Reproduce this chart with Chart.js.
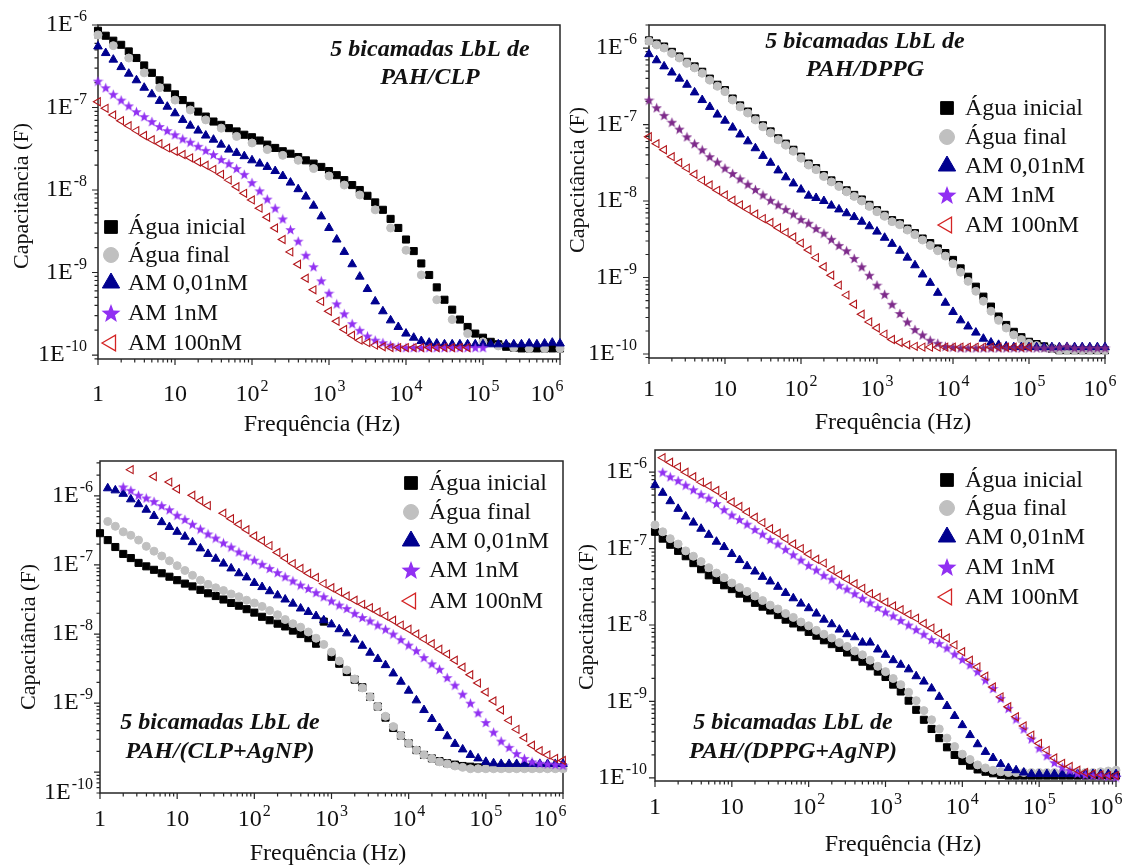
<!DOCTYPE html>
<html>
<head>
<meta charset="utf-8">
<script src="https://cdn.jsdelivr.net/npm/chart.js@4.4.0/dist/chart.umd.min.js"></script>
<style>
  html, body { margin: 0; background: #fff; }
  #wrap { position: relative; width: 1126px; height: 865px; overflow: hidden; }
  canvas { position: absolute; }
</style>
</head>
<body>
<div id="wrap">
  <canvas id="c1" width="575" height="440" style="left:0px;top:0px"></canvas>
  <canvas id="c2" width="566" height="440" style="left:560px;top:0px"></canvas>
  <canvas id="c3" width="575" height="430" style="left:0px;top:435px"></canvas>
  <canvas id="c4" width="566" height="430" style="left:560px;top:435px"></canvas>
</div>
<script>
// frequency grid (Hz), shared by all panels
const freq = [1, 1.26, 1.58, 2, 2.51, 3.16, 3.98, 5.01, 6.31, 7.94,
  10, 12.6, 15.8, 20, 25.1, 31.6, 39.8, 50.1, 63.1, 79.4,
  100, 126, 158, 200, 251, 316, 398, 501, 631, 794,
  1000, 1260, 1580, 2000, 2510, 3160, 3980, 5010, 6310, 7940,
  1e4, 12600, 15800, 20000, 25100, 31600, 39800, 50100, 63100, 79400,
  1e5, 126000, 158000, 200000, 251000, 316000, 398000, 501000, 631000, 794000, 1e6];

const seriesNames = ['Água inicial', 'Água final', 'AM 0,01nM', 'AM 1nM', 'AM 100nM'];

// values are log10 of capacitance (F); null = no point
// 5 bicamadas PAH/CLP
const clpInicial = [-6.07,-6.13,-6.19,-6.24,-6.32,-6.40,-6.49,-6.58,-6.67,-6.76,
  -6.84,-6.91,-6.98,-7.05,-7.11,-7.17,-7.21,-7.25,-7.29,-7.33,
  -7.36,-7.40,-7.45,-7.49,-7.53,-7.56,-7.60,-7.64,-7.68,-7.72,
  -7.77,-7.82,-7.88,-7.94,-8.00,-8.07,-8.15,-8.24,-8.35,-8.46,
  -8.60,-8.74,-8.89,-9.03,-9.18,-9.33,-9.45,-9.57,-9.66,-9.74,
  -9.79,-9.84,-9.87,-9.90,-9.91,-9.92,-9.92,-9.92,-9.92,-9.92,-9.92];
const clpFinal = [-6.12,null,-6.25,null,-6.40,null,-6.58,null,-6.76,null,
  -6.91,null,-7.03,null,-7.15,null,-7.25,null,-7.35,null,
  -7.43,null,-7.51,null,-7.58,null,-7.64,null,-7.74,null,
  -7.83,null,-7.94,null,-8.06,null,-8.24,null,-8.46,null,
  -8.73,null,-9.03,null,-9.33,null,-9.57,null,-9.74,null,
  -9.84,null,-9.89,null,-9.91,null,-9.92,null,-9.92,null,-9.92];
const clpAm001 = [-6.26,-6.34,-6.42,-6.51,-6.59,-6.67,-6.76,-6.84,-6.92,-6.99,
  -7.07,-7.15,-7.22,-7.28,-7.34,-7.39,-7.45,-7.51,-7.55,-7.59,
  -7.64,-7.68,-7.72,-7.77,-7.83,-7.91,-7.99,-8.08,-8.19,-8.32,
  -8.46,-8.60,-8.75,-8.90,-9.05,-9.20,-9.35,-9.47,-9.58,-9.66,
  -9.74,-9.79,-9.83,-9.85,-9.86,-9.87,-9.87,-9.87,-9.87,-9.87,
  -9.87,-9.87,-9.87,-9.87,-9.87,-9.87,-9.86,-9.87,-9.86,-9.85,-9.86];
const clpAm1 = [-6.68,-6.76,-6.84,-6.91,-6.98,-7.05,-7.11,-7.17,-7.23,-7.28,
  -7.33,-7.38,-7.42,-7.47,-7.52,-7.57,-7.63,-7.68,-7.74,-7.81,
  -7.91,-8.01,-8.11,-8.22,-8.35,-8.48,-8.62,-8.79,-8.93,-9.10,
  -9.25,-9.38,-9.50,-9.62,-9.70,-9.77,-9.82,-9.85,-9.88,-9.90,
  -9.91,-9.91,-9.91,-9.91,-9.91,-9.91,-9.91,-9.91,-9.91,-9.91,-9.91];
const clpAm100 = [-6.93,-7.01,-7.09,-7.16,-7.22,-7.28,-7.34,-7.39,-7.44,-7.49,
  -7.53,-7.57,-7.61,-7.66,-7.70,-7.75,-7.81,-7.88,-7.96,-8.04,
  -8.12,-8.22,-8.33,-8.46,-8.60,-8.75,-8.90,-9.07,-9.21,-9.35,
  -9.47,-9.59,-9.69,-9.76,-9.82,-9.85,-9.88,-9.90,-9.91,-9.91,
  -9.91,-9.91,-9.91,-9.91,-9.91,-9.91,-9.91,-9.91,-9.91];

// 5 bicamadas PAH/DPPG
const dppgInicial = [-5.90,-5.94,-5.98,-6.05,-6.11,-6.18,-6.24,-6.31,-6.40,-6.48,
  -6.55,-6.66,-6.75,-6.83,-6.92,-7.01,-7.09,-7.18,-7.25,-7.33,
  -7.42,-7.51,-7.57,-7.66,-7.73,-7.79,-7.86,-7.92,-7.98,-8.05,
  -8.12,-8.18,-8.25,-8.29,-8.36,-8.42,-8.49,-8.55,-8.62,-8.68,
  -8.77,-8.88,-8.99,-9.12,-9.25,-9.38,-9.51,-9.62,-9.71,-9.78,
  -9.84,-9.87,-9.90,-9.93,-9.95,-9.95,-9.95,-9.95,-9.95,-9.95,-9.95];
const dppgFinal = [-5.91,-5.96,-6.00,-6.07,-6.13,-6.20,-6.26,-6.33,-6.42,-6.50,
  -6.57,-6.68,-6.77,-6.85,-6.94,-7.03,-7.11,-7.20,-7.27,-7.35,
  -7.44,-7.53,-7.59,-7.68,-7.75,-7.81,-7.88,-7.94,-8.00,-8.07,
  -8.14,-8.20,-8.27,-8.31,-8.38,-8.44,-8.51,-8.58,-8.65,-8.72,
  -8.82,-8.93,-9.05,-9.18,-9.31,-9.44,-9.56,-9.66,-9.75,-9.81,
  -9.86,-9.89,-9.92,-9.93,-9.95,-9.95,-9.95,-9.95,-9.95,-9.95,-9.95];
const dppgAm001 = [-6.08,-6.16,-6.24,-6.32,-6.40,-6.48,-6.58,-6.68,-6.77,-6.87,
  -6.95,-7.04,-7.13,-7.22,-7.31,-7.41,-7.50,-7.60,-7.69,-7.77,
  -7.85,-7.93,-7.96,-8.00,-8.06,-8.11,-8.16,-8.21,-8.27,-8.33,
  -8.40,-8.48,-8.56,-8.65,-8.74,-8.84,-8.96,-9.07,-9.20,-9.33,
  -9.45,-9.56,-9.64,-9.72,-9.80,-9.85,-9.88,-9.90,-9.91,-9.91,
  -9.91,-9.91,-9.91,-9.91,-9.91,-9.91,-9.91,-9.91,-9.91,-9.91,-9.91];
const dppgAm1 = [-6.68,-6.78,-6.88,-6.97,-7.06,-7.16,-7.25,-7.33,-7.42,-7.49,
  -7.57,-7.64,-7.71,-7.78,-7.85,-7.92,-7.99,-8.05,-8.11,-8.17,
  -8.24,-8.29,-8.36,-8.42,-8.50,-8.58,-8.65,-8.75,-8.86,-8.97,
  -9.10,-9.22,-9.35,-9.47,-9.58,-9.68,-9.75,-9.82,-9.86,-9.90,
  -9.91,-9.92,-9.92,-9.92,-9.92,-9.92,-9.92,-9.92,-9.92,-9.92,
  -9.92,-9.92,-9.92,-9.92,-9.91,-9.90,-9.92,-9.92,-9.92,-9.92,-9.92];
const dppgAm100 = [-7.16,-7.25,-7.33,-7.42,-7.50,-7.57,-7.65,-7.73,-7.79,-7.86,
  -7.92,-7.99,-8.05,-8.11,-8.17,-8.23,-8.28,-8.35,-8.41,-8.47,
  -8.55,-8.64,-8.74,-8.86,-8.97,-9.10,-9.23,-9.35,-9.48,-9.58,
  -9.66,-9.74,-9.81,-9.85,-9.88,-9.90,-9.91,-9.91,-9.91,-9.91,
  -9.91,-9.91,-9.91,-9.91,-9.91,-9.91,-9.91,-9.91,-9.91,-9.91,-9.91];

// 5 bicamadas PAH/(CLP+AgNP)
const clpAgInicial = [-6.54,-6.64,-6.74,-6.84,-6.90,-6.97,-7.02,-7.07,-7.12,-7.17,
  -7.22,-7.27,-7.31,-7.36,-7.41,-7.45,-7.50,-7.55,-7.59,-7.64,
  -7.69,-7.75,-7.80,-7.85,-7.89,-7.95,-8.00,-8.06,-8.14,-7.82,
  -8.33,-8.43,-8.55,-8.66,-8.77,-8.91,-9.05,-9.21,-9.36,-9.47,
  -9.58,-9.68,-9.75,-9.80,-9.84,-9.87,-9.89,-9.91,-9.92,-9.93,
  -9.93,-9.93,-9.93,-9.93,-9.93,-9.93,-9.93,-9.93,-9.93,-9.93,-9.93];
const clpAgFinal = [null,-6.37,-6.44,-6.52,-6.57,-6.64,-6.73,-6.80,-6.87,-6.94,
  -7.01,-7.08,-7.15,-7.22,-7.28,-7.33,-7.37,-7.42,-7.46,-7.51,
  -7.55,-7.60,-7.66,-7.72,-7.79,-7.85,-7.90,-7.97,-8.06,-8.15,
  -8.26,-8.39,-8.52,-8.65,-8.78,-8.91,-9.05,-9.19,-9.34,-9.47,
  -9.58,-9.68,-9.75,-9.80,-9.85,-9.88,-9.91,-9.93,-9.95,-9.95,
  -9.95,-9.95,-9.95,-9.95,-9.95,-9.95,-9.95,-9.95,-9.95,-9.95,-9.95];
const clpAgAm001 = [null,-5.89,-5.92,-5.97,-6.05,-6.12,-6.20,-6.29,-6.38,-6.45,
  -6.52,-6.59,-6.67,-6.76,-6.84,-6.91,-6.98,-7.05,-7.12,-7.18,
  -7.26,-7.32,-7.38,-7.44,-7.50,-7.56,-7.63,-7.68,-7.74,-7.80,
  -7.86,-7.93,-7.99,-8.08,-8.17,-8.27,-8.36,-8.45,-8.57,-8.69,
  -8.82,-8.96,-9.10,-9.23,-9.36,-9.48,-9.59,-9.67,-9.75,-9.80,
  -9.85,-9.87,-9.88,-9.88,-9.88,-9.88,-9.88,-9.88,-9.88,-9.88,-9.88];
const clpAgAm1 = [null,null,null,-5.87,-5.92,-5.99,-6.03,-6.08,-6.14,-6.20,
  -6.28,-6.34,-6.41,-6.48,-6.55,-6.61,-6.68,-6.74,-6.81,-6.87,
  -6.93,-6.99,-7.05,-7.11,-7.17,-7.23,-7.29,-7.34,-7.40,-7.46,
  -7.52,-7.58,-7.63,-7.70,-7.76,-7.81,-7.87,-7.93,-8.00,-8.08,
  -8.16,-8.24,-8.34,-8.43,-8.51,-8.63,-8.74,-8.87,-9.00,-9.14,
  -9.28,-9.42,-9.55,-9.64,-9.73,-9.80,-9.85,-9.87,-9.88,-9.89,-9.90];
const clpAgAm100 = [null,null,null,null,-5.62,null,null,-5.72,null,-5.80,
  -5.90,null,-5.99,-6.07,-6.14,null,-6.25,-6.33,-6.41,-6.49,
  -6.58,-6.65,-6.72,-6.82,-6.90,-6.98,-7.05,-7.12,-7.18,-7.27,
  -7.33,-7.39,-7.45,-7.51,-7.57,-7.62,-7.68,-7.74,-7.80,-7.87,
  -7.93,-8.00,-8.07,-8.14,-8.22,-8.29,-8.38,-8.48,-8.59,-8.71,
  -8.84,-8.97,-9.10,-9.25,-9.38,-9.50,-9.61,-9.69,-9.75,-9.80,-9.83];

// 5 bicamadas PAH/(DPPG+AgNP)
const dppgAgInicial = [-6.78,-6.87,-6.95,-7.03,-7.10,-7.19,-7.27,-7.35,-7.41,-7.48,
  -7.53,-7.59,-7.65,-7.71,-7.76,-7.81,-7.87,-7.93,-7.98,-8.03,
  -8.09,-8.14,-8.20,-8.25,-8.30,-8.36,-8.42,-8.48,-8.54,-8.61,
  -8.68,-8.78,-8.87,-8.99,-9.11,-9.24,-9.36,-9.48,-9.60,-9.70,
  -9.78,-9.84,-9.89,-9.92,-9.94,-9.96,-9.97,-9.97,-9.97,-9.97,
  -9.97,-9.97,-9.97,-9.97,-9.97,-9.97,-9.97,-9.97,-9.97,-9.97,-9.97];
const dppgAgFinal = [-6.69,-6.78,-6.87,-6.94,-7.03,-7.10,-7.17,-7.25,-7.32,-7.38,
  -7.45,-7.51,-7.56,-7.62,-7.68,-7.74,-7.79,-7.85,-7.90,-7.96,
  -8.01,-8.07,-8.12,-8.17,-8.23,-8.28,-8.34,-8.39,-8.46,-8.54,
  -8.61,-8.70,-8.78,-8.88,-8.99,-9.12,-9.24,-9.36,-9.48,-9.59,
  -9.69,-9.76,-9.83,-9.87,-9.90,-9.92,-9.93,-9.93,-9.93,-9.93,
  -9.93,-9.93,-9.93,-9.93,-9.93,-9.93,-9.93,-9.93,-9.92,-9.91,-9.90];
const dppgAgAm001 = [-6.17,-6.27,-6.38,-6.48,-6.58,-6.66,-6.74,-6.82,-6.91,-6.98,
  -7.07,-7.15,-7.23,-7.30,-7.37,-7.43,-7.50,-7.58,-7.65,-7.72,
  -7.78,-7.85,-7.93,-7.99,-8.06,-8.12,-8.16,-8.23,-8.23,-8.32,
  -8.39,-8.46,-8.52,-8.58,-8.67,-8.74,-8.83,-8.94,-9.06,-9.19,
  -9.31,-9.44,-9.56,-9.66,-9.74,-9.82,-9.87,-9.90,-9.93,-9.95,
  -9.95,-9.95,-9.95,-9.95,-9.95,-9.95,-9.95,-9.95,-9.95,-9.95,-9.95];
const dppgAgAm1 = [null,-6.00,-6.06,-6.11,-6.17,-6.23,-6.29,-6.34,-6.41,-6.49,
  -6.56,-6.62,-6.68,-6.75,-6.81,-6.88,-6.94,-7.01,-7.08,-7.15,
  -7.22,-7.28,-7.35,-7.40,-7.48,-7.53,-7.59,-7.65,-7.71,-7.77,
  -7.83,-7.88,-7.94,-8.00,-8.06,-8.12,-8.19,-8.24,-8.30,-8.38,
  -8.45,-8.52,-8.61,-8.72,-8.83,-8.96,-9.09,-9.23,-9.36,-9.49,
  -9.61,-9.71,-9.80,-9.86,-9.90,-9.94,-9.96,-9.97,-9.97,-9.98,-9.99];
const dppgAgAm100 = [null,-5.81,-5.87,-5.93,-6.00,-6.06,-6.13,-6.18,-6.24,-6.31,
  -6.39,-6.45,-6.52,-6.59,-6.66,-6.74,-6.80,-6.87,-6.94,-7.00,
  -7.07,-7.14,-7.19,-7.28,-7.34,-7.40,-7.46,-7.52,-7.59,-7.64,
  -7.70,-7.75,-7.80,-7.86,-7.91,-7.98,-8.04,-8.11,-8.17,-8.26,
  -8.35,-8.46,-8.55,-8.67,-8.81,-8.94,-9.07,-9.20,-9.32,-9.44,
  -9.55,-9.64,-9.74,-9.81,-9.85,-9.90,-9.93,-9.95,-9.96,-9.97,-9.97];

// axis ticks and their labels
const xTickValues = [1, 10, 100, 1e3, 1e4, 1e5, 1e6];
const xTickText = [['1', ''], ['10', ''], ['10', '2'], ['10', '3'], ['10', '4'], ['10', '5'], ['10', '6']];
const yTickValues = [1e-10, 1e-9, 1e-8, 1e-7, 1e-6];
const yTickText = [['1E', '-10'], ['1E', '-9'], ['1E', '-8'], ['1E', '-7'], ['1E', '-6']];

const FONT = '"Liberation Serif", "Times New Roman", Times, serif';

function starImage(color, size) {
  const c = document.createElement('canvas');
  c.width = size; c.height = size;
  const g = c.getContext('2d');
  const r = size / 2, ri = r * 0.42;
  g.beginPath();
  for (let k = 0; k < 10; k++) {
    const a = -Math.PI / 2 + k * Math.PI / 5;
    const rr = k % 2 ? ri : r;
    g.lineTo(r + rr * Math.cos(a), r + 0.09 * r + rr * Math.sin(a));
  }
  g.closePath();
  g.fillStyle = color;
  g.fill();
  return c;
}

const violet = '#9130f2';
const darkRed = '#b3161b';

function markerStyles(starColor) {
  return [
    { pointStyle: 'rect', radius: 5, fill: '#000', stroke: '#000', bw: 1, rot: 0 },
    { pointStyle: 'circle', radius: 4, fill: '#c0c0c0', stroke: '#c0c0c0', bw: 1, rot: 0 },
    { pointStyle: 'triangle', radius: 5, fill: '#00008f', stroke: '#00008f', bw: 1, rot: 0 },
    { pointStyle: starImage(starColor, 11), radius: 5, fill: starColor, stroke: starColor, bw: 0, rot: 0 },
    { pointStyle: 'triangle', radius: 4.6, fill: 'rgba(0,0,0,0)', stroke: darkRed, bw: 1.1, rot: -90 }
  ];
}
const legendStyles = [
  { pointStyle: 'rect', radius: 9, fill: '#000', stroke: '#000', bw: 1, rot: 0 },
  { pointStyle: 'circle', radius: 7.5, fill: '#c0c0c0', stroke: '#c0c0c0', bw: 1, rot: 0 },
  { pointStyle: 'triangle', radius: 10, fill: '#00008f', stroke: '#00008f', bw: 1, rot: 0 },
  { pointStyle: starImage(violet, 20), radius: 9, fill: violet, stroke: violet, bw: 0, rot: 0 },
  { pointStyle: 'triangle', radius: 9, fill: 'rgba(0,0,0,0)', stroke: '#d42424', bw: 1.3, rot: -90 }
];

const panels = [
  { id: 'c1', left: 0, top: 0, pad: { left: 98, top: 25, right: 15, bottom: 81 },
    yMin: 8.95e-11, yMax: 1.0e-6, starColor: violet,
    series: [clpInicial, clpFinal, clpAm001, clpAm1, clpAm100],
    legend: { mx: 111, tx: 128, ys: [227, 255, 283, 313, 343] },
    note: { cx: 430, ys: [50, 78], lines: ['5 bicamadas LbL de', 'PAH/CLP'] },
    yTitle: [22, 196], xTitle: [322, 425], xLabelY: 395, yLabelRight: 87, lastShift: -13 },
  { id: 'c2', left: 560, top: 0, pad: { left: 89, top: 25, right: 21, bottom: 82 },
    yMin: 8.87e-11, yMax: 2.0e-6, starColor: '#7d2a8a',
    series: [dppgInicial, dppgFinal, dppgAm001, dppgAm1, dppgAm100],
    legend: { mx: 947, tx: 965, ys: [108, 137, 166, 195, 225] },
    note: { cx: 865, ys: [42, 70], lines: ['5 bicamadas LbL de', 'PAH/DPPG'] },
    yTitle: [578, 180], xTitle: [893, 423], xLabelY: 390, yLabelRight: 637, lastShift: -5 },
  { id: 'c3', left: 0, top: 435, pad: { left: 100, top: 26, right: 12, bottom: 72 },
    yMin: 5.0e-11, yMax: 3.2e-6, starColor: violet, bottomLabel: true,
    series: [clpAgInicial, clpAgFinal, clpAgAm001, clpAgAm1, clpAgAm100],
    legend: { mx: 411, tx: 429, ys: [483, 512, 541, 570, 601] },
    note: { cx: 220, ys: [723, 752], lines: ['5 bicamadas LbL de', 'PAH/(CLP+AgNP)'] },
    yTitle: [29, 637], xTitle: [328, 854], xLabelY: 820, yLabelRight: 93, lastShift: -13 },
  { id: 'c4', left: 560, top: 435, pad: { left: 95, top: 15, right: 10, bottom: 84 },
    yMin: 9.1e-11, yMax: 1.95e-6, starColor: violet,
    series: [dppgAgInicial, dppgAgFinal, dppgAgAm001, dppgAgAm1, dppgAgAm100],
    legend: { mx: 947, tx: 965, ys: [480, 508, 537, 567, 597] },
    note: { cx: 793, ys: [723, 752], lines: ['5 bicamadas LbL de', 'PAH/(DPPG+AgNP)'] },
    yTitle: [587, 617], xTitle: [903, 845], xLabelY: 808, yLabelRight: 647, lastShift: -10 }
];

function supText(ctx, base, sup, x, y, align) {
  ctx.font = '24px ' + FONT;
  const wb = ctx.measureText(base).width;
  ctx.font = '16px ' + FONT;
  const ws = sup ? ctx.measureText(sup).width : 0;
  const w = wb + ws + (sup ? 1 : 0);
  const x0 = align === 'right' ? x - w : align === 'center' ? x - w / 2 : x;
  ctx.textAlign = 'left';
  ctx.textBaseline = 'middle';
  ctx.font = '24px ' + FONT;
  ctx.fillText(base, x0, y);
  if (sup) {
    ctx.font = '16px ' + FONT;
    ctx.fillText(sup, x0 + wb + 1, y - 8);
  }
}

function makeDecor(p) {
  const ox = p.left, oy = p.top;
  return {
    id: 'decor',
    beforeDatasetsDraw(chart) {
      const ctx = chart.ctx, a = chart.chartArea;
      const xs = chart.scales.x, ys = chart.scales.y;
      ctx.save();
      ctx.strokeStyle = '#262626';
      ctx.lineWidth = 1.5;
      ctx.strokeRect(a.left, a.top, a.right - a.left, a.bottom - a.top);
      ctx.lineWidth = 1.2;
      ctx.beginPath();
      for (let d = 0; d <= 6; d++) {
        for (let m = 1; m < 10; m++) {
          const v = m * Math.pow(10, d);
          if (v > 1e6 * 1.001) continue;
          const px = xs.getPixelForValue(v);
          const len = m === 1 ? 6 : 3.5;
          ctx.moveTo(px, a.bottom);
          ctx.lineTo(px, a.bottom + len);
        }
      }
      for (let d = -11; d <= -5; d++) {
        for (let m = 1; m < 10; m++) {
          const v = m * Math.pow(10, d);
          if (v < p.yMin * 0.999 || v > p.yMax * 1.001) continue;
          const py = ys.getPixelForValue(v);
          const len = m === 1 ? 6 : 3.5;
          ctx.moveTo(a.left - len, py);
          ctx.lineTo(a.left, py);
        }
      }
      ctx.stroke();
      ctx.restore();
    },
    afterDatasetsDraw(chart) {
      const ctx = chart.ctx, a = chart.chartArea;
      const xs = chart.scales.x, ys = chart.scales.y;
      ctx.save();
      ctx.fillStyle = '#111';
      // x tick labels
      xTickValues.forEach((v, i) => {
        let px = xs.getPixelForValue(v);
        if (i === xTickValues.length - 1) px += p.lastShift;
        supText(ctx, xTickText[i][0], xTickText[i][1], px, p.xLabelY - oy, 'center');
      });
      // y tick labels
      yTickValues.forEach((v, i) => {
        if (v < p.yMin * 0.999 || v > p.yMax * 1.001) return;
        let py = ys.getPixelForValue(v);
        if (i === 0 && p.bottomLabel) py = a.bottom;
        supText(ctx, yTickText[i][0], yTickText[i][1], p.yLabelRight - ox, py, 'right');
      });
      // axis titles
      ctx.textAlign = 'center';
      ctx.textBaseline = 'middle';
      ctx.font = '24px ' + FONT;
      ctx.fillText('Frequência (Hz)', p.xTitle[0] - ox, p.xTitle[1] - oy);
      ctx.save();
      ctx.font = '22px ' + FONT;
      ctx.translate(p.yTitle[0] - ox, p.yTitle[1] - oy);
      ctx.rotate(-Math.PI / 2);
      ctx.fillText('Capacitância (F)', 0, 0);
      ctx.restore();
      // sample label
      ctx.font = 'italic bold 24px ' + FONT;
      p.note.lines.forEach((t, i) => ctx.fillText(t, p.note.cx - ox, p.note.ys[i] - oy));
      // legend
      seriesNames.forEach((name, k) => {
        const st = legendStyles[k];
        const mx = p.legend.mx - ox, my = p.legend.ys[k] - oy;
        ctx.save();
        ctx.fillStyle = st.fill;
        ctx.strokeStyle = st.stroke;
        ctx.lineWidth = st.bw;
        Chart.helpers.drawPoint(ctx, { pointStyle: st.pointStyle, radius: st.radius, rotation: st.rot, borderWidth: st.bw }, mx, my);
        ctx.restore();
        ctx.font = '24px ' + FONT;
        ctx.textAlign = 'left';
        ctx.textBaseline = 'middle';
        ctx.fillStyle = '#111';
        ctx.fillText(name, p.legend.tx - ox, my + 1);
      });
      ctx.restore();
    }
  };
}

panels.forEach(p => {
  const styles = markerStyles(p.starColor);
  const datasets = p.series.map((vals, k) => {
    const pts = [];
    vals.forEach((v, i) => {
      if (v !== null && v !== undefined) pts.push({ x: freq[i], y: Math.pow(10, v) });
    });
    const st = styles[k];
    return {
      label: seriesNames[k],
      data: pts,
      order: 4 - k,
      clip: false,
      showLine: false,
      pointStyle: st.pointStyle,
      pointRadius: st.radius,
      pointRotation: st.rot,
      pointBackgroundColor: st.fill,
      pointBorderColor: st.stroke,
      pointBorderWidth: st.bw
    };
  });
  new Chart(document.getElementById(p.id), {
    type: 'scatter',
    data: { datasets: datasets },
    options: {
      responsive: false,
      animation: false,
      events: [],
      layout: { padding: p.pad },
      plugins: { legend: { display: false }, tooltip: { enabled: false } },
      scales: {
        x: { type: 'logarithmic', min: 1, max: 1e6, display: false },
        y: { type: 'logarithmic', min: p.yMin, max: p.yMax, display: false }
      }
    },
    plugins: [makeDecor(p)]
  });
});
</script>
</body>
</html>
